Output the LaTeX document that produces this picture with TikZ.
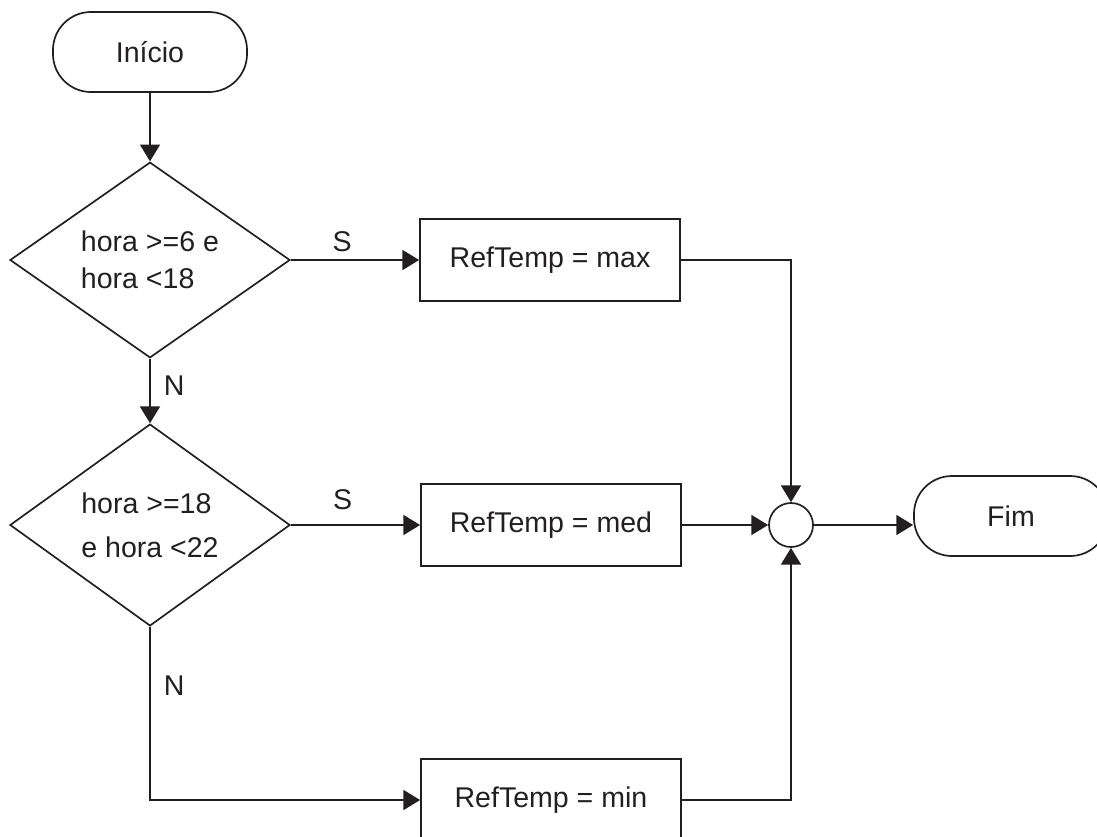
\documentclass[tikz,border=0pt]{standalone}
\usepackage{fontspec}
\setmainfont{Liberation Sans}
\usetikzlibrary{positioning,arrows.meta,shapes.geometric}
\definecolor{ink}{HTML}{231F20}

\begin{document}
\begin{tikzpicture}[x=0.025cm,y=-0.025cm,font=\fontsize{20.3}{26}\selectfont,line width=1.2pt,
  every node/.style={text=ink},draw=ink,
  term/.style={draw=ink,rounded corners=0.95cm,minimum width=4.85cm,minimum height=2cm},
  dec/.style={draw=ink,diamond,minimum width=7cm,minimum height=4.8cm,align=left,inner sep=0pt},
  proc/.style={draw=ink,minimum width=6.5cm,minimum height=2.05cm},
  junc/.style={draw=ink,circle,minimum size=1.1cm,inner sep=0pt},
  arr/.style={draw=ink,-{Triangle[length=0.42cm,width=0.5cm]}}]
  \useasboundingbox (0,0) rectangle (1097,836);
  \clip (0,0) rectangle (1097,836);
  \node[term] (ini) at (150,52) {Início};
  \node[dec] (d1) at (150,260) {hora >=6 e\\hora <18};
  \draw[arr] (ini) -- (d1);
  \node[proc] (rmax) at (550,260) {RefTemp = max};
  \draw[arr] (d1) -- node[above=2pt,pos=0.4] {S} (rmax);
  \node[dec] (d2) at (150,525) {hora >=18\\[5pt]e hora <22};
  \draw[arr] (d1) -- node[right=6pt,pos=0.42] {N} (d2);
  \node[proc] (rmed) at (551,525) {RefTemp = med};
  \draw[arr] (d2) -- node[above=7pt,pos=0.4] {S} (rmed);
  \node[junc] (junc) at (791,525) {};
  \draw[arr] (rmed) -- (junc);
  \draw[arr] (rmax.east) -| (junc.north);
  \node[term] (fim) at (1011,516) {Fim};
  \draw[arr] (junc) -- (junc -| fim.west);
  \node[proc] (rmin) at (551,800) {RefTemp = min};
  \draw[arr] (d2.south) |- node[right=6pt,pos=0.17] {N} (rmin.west);
  \draw[arr] (rmin.east) -| (junc.south);
\end{tikzpicture}
\end{document}
